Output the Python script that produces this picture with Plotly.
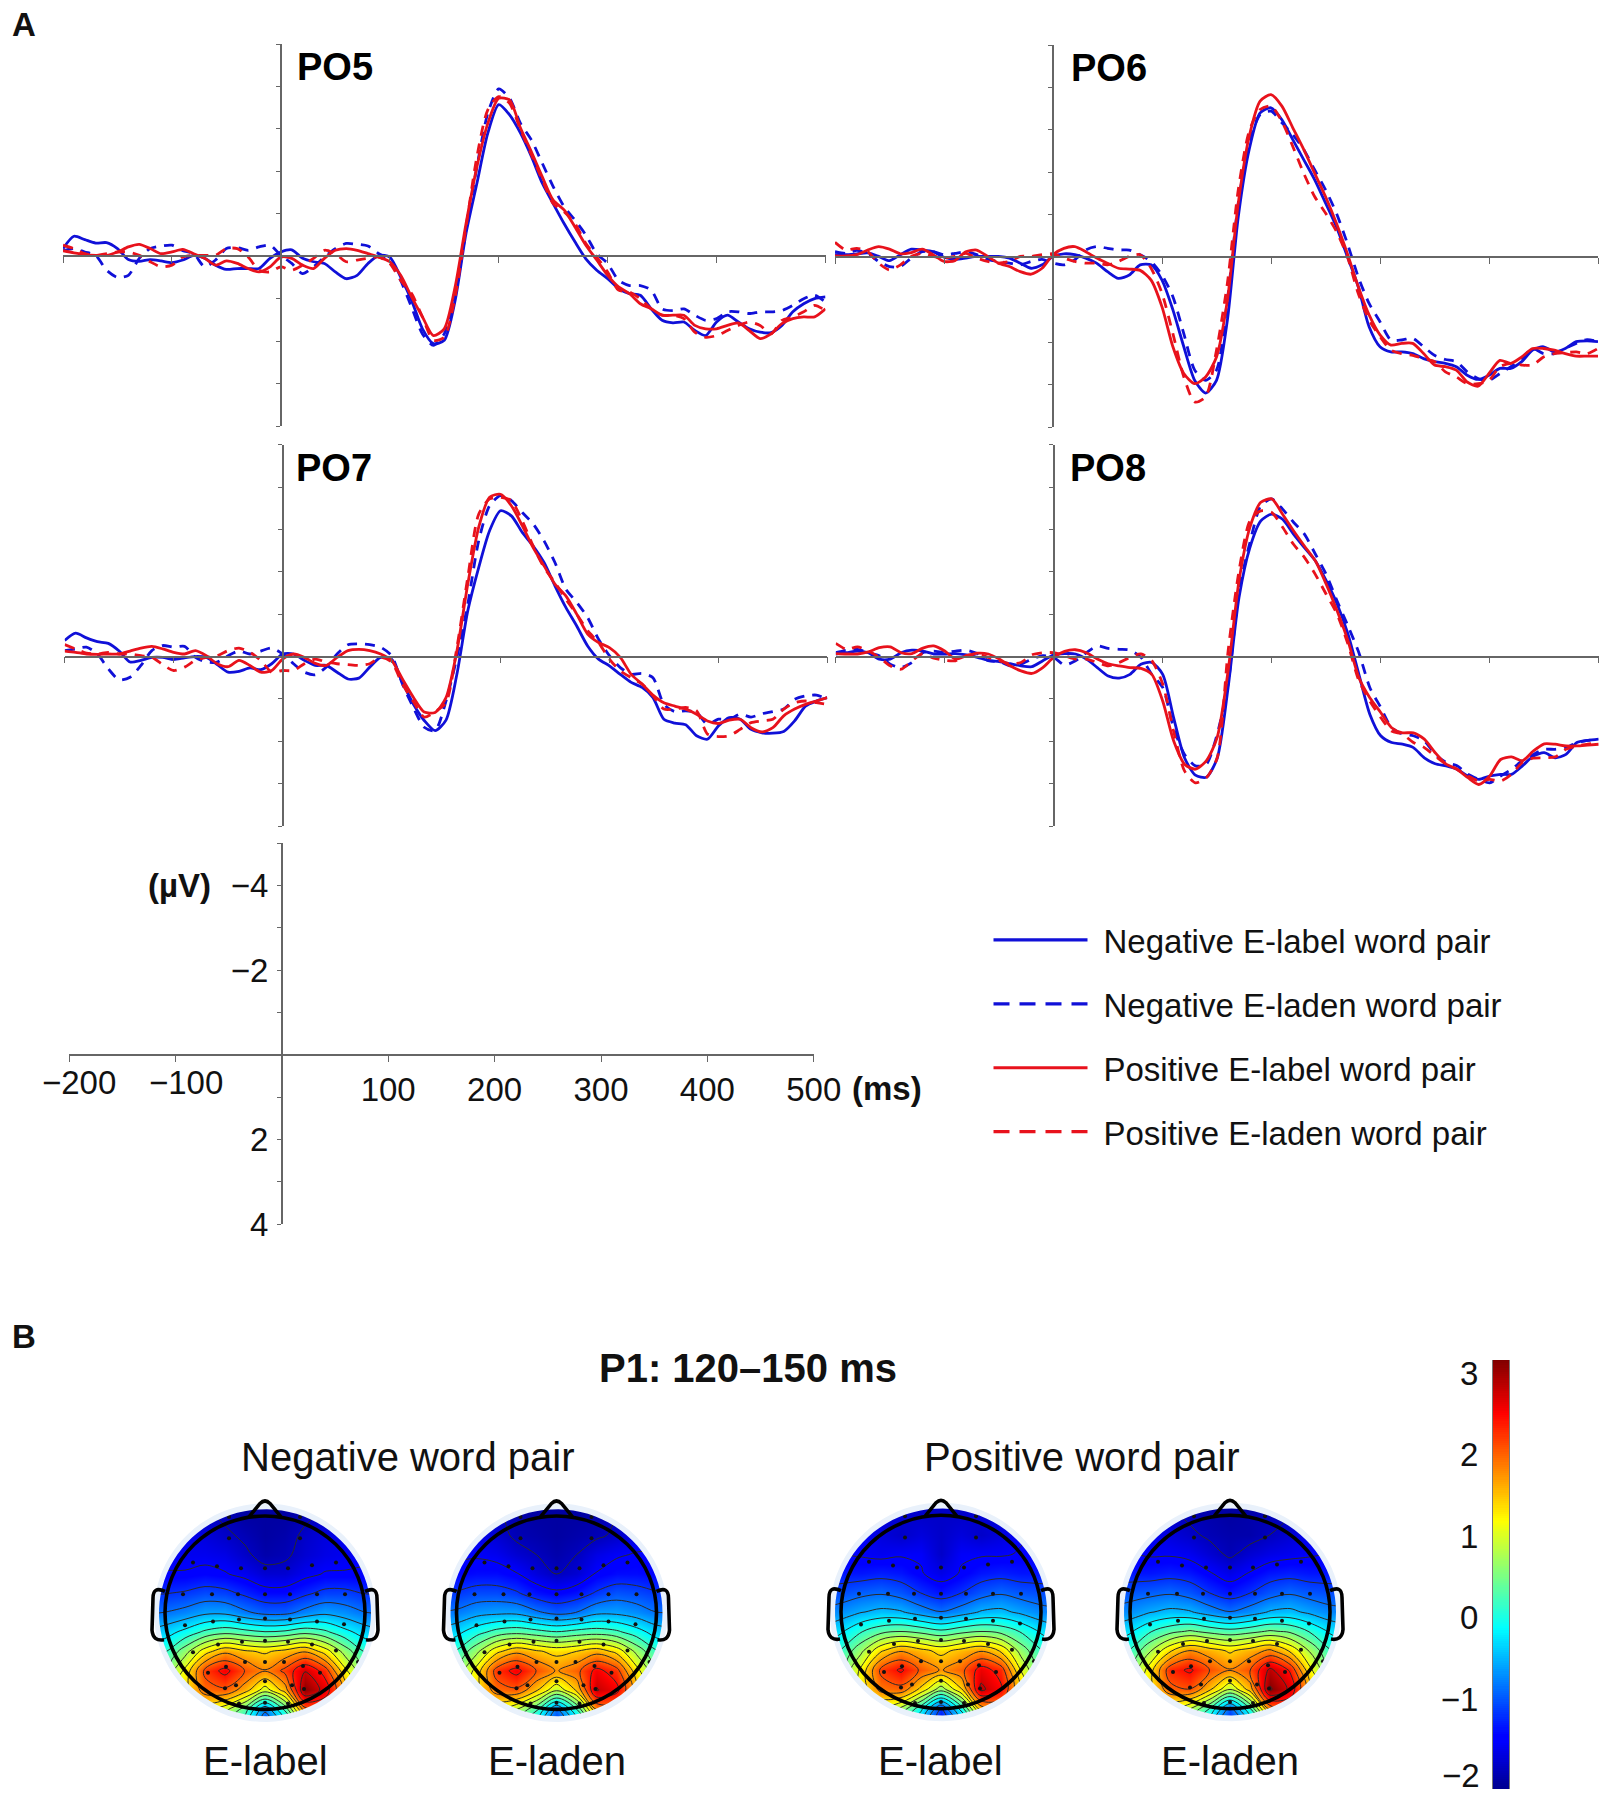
import numpy as np
import plotly.graph_objects as go

W = 1608
H = 1796

# time points in ms, every 10 ms
ms = list(range(-200, 510, 10))

# ERP values in microvolts, rows start at -200, -100, 0, 100, 200, 300, 400, 500 ms
po5_neg_label = [-.18,-.47,-.39,-.31,-.32,-.18,.08,.12,.08,.11,
    .15,.09,-.02,.05,.21,.31,.29,.29,.29,.05,
    -.1,-.15,.05,.13,.17,.37,.53,.45,.17,-.02,
    .02,.49,1.04,1.71,2.06,1.98,1.04,-.54,-1.72,-2.9,
    -3.57,-3.33,-2.9,-2.35,-1.72,-1.24,-.77,-.34,.06,.33,
    .53,.76,.88,.92,1.24,1.51,1.57,1.55,1.75,1.87,
    1.55,1.39,1.55,1.71,1.79,1.8,1.63,1.31,1.12,1.0,
    .96]
po5_neg_laden = [-.13,-.18,-.1,-.02,.33,.5,.45,.05,-.18,-.24,
    -.26,-.13,-.06,.25,.09,-.18,-.2,-.14,-.22,-.26,
    -.02,.17,.41,.25,.02,-.18,-.3,-.28,-.24,-.06,
    .09,.57,1.2,1.83,2.1,1.83,.88,-.61,-2.11,-3.37,
    -3.94,-3.72,-3.13,-2.74,-2.19,-1.64,-1.17,-.85,-.5,-.06,
    .17,.57,.69,.69,.8,1.24,1.28,1.24,1.39,1.51,
    1.47,1.31,1.31,1.35,1.31,1.31,1.28,1.16,1.0,.92,
    1.08]
po5_pos_label = [-.13,-.08,-.04,-.02,-.02,-.1,-.22,-.28,-.18,-.06,
    -.1,-.16,-.06,.05,.21,.11,.17,.29,.37,.25,
    .02,.05,.21,.29,.05,-.14,-.18,-.14,-.06,.02,
    .13,.45,.96,1.43,1.87,1.71,.72,-.77,-2.11,-3.13,
    -3.72,-3.68,-3.02,-2.46,-1.87,-1.32,-1.09,-.69,-.26,.09,
    .45,.72,.88,1.12,1.24,1.39,1.39,1.39,1.63,1.71,
    1.71,1.63,1.57,1.75,1.94,1.83,1.59,1.47,1.43,1.43,
    1.24]
po5_pos_laden = [-.26,-.18,-.06,-.02,-.06,-.1,-.1,-.02,.13,.25,
    .21,.02,-.02,-.02,-.02,-.18,-.18,.02,.33,.37,
    .25,.33,.21,.05,-.14,-.06,.13,.09,.05,.02,
    .17,.57,.88,1.43,1.98,1.91,.96,-.69,-2.35,-3.45,
    -3.76,-3.6,-2.98,-2.39,-1.8,-1.24,-1.05,-.77,-.3,.02,
    .37,.8,.84,1.0,1.24,1.39,1.39,1.47,1.79,1.91,
    1.87,1.75,1.63,1.55,1.63,1.83,1.51,1.43,1.31,1.16,
    1.28]

po6_neg_label = [-.06,-.06,-.08,-.1,-.02,.08,-.06,-.19,-.17,-.13,
    0,.05,.02,-.02,-.02,-.02,.02,.14,.26,.18,
    -.02,-.08,-.06,.02,.14,.34,.5,.42,.18,.18,
    .54,1.24,2.11,2.9,3.2,2.9,1.48,-.96,-2.54,-3.4,
    -3.52,-3.24,-2.77,-2.3,-1.83,-1.28,-.72,-.02,.69,1.64,
    2.11,2.23,2.23,2.27,2.39,2.46,2.5,2.58,2.78,2.88,
    2.78,2.62,2.62,2.46,2.19,2.11,2.23,2.15,1.99,1.97,
    1.99]
po6_neg_laden = [-.13,-.09,-.16,-.09,.1,.22,.22,.02,-.13,-.13,
    -.06,-.09,-.13,-.06,.05,.1,.14,.18,.1,.05,
    .14,.18,.06,-.17,-.25,-.21,-.17,-.17,-.06,.1,
    .42,.93,1.8,2.66,2.9,2.66,1.01,-1.28,-2.69,-3.36,
    -3.44,-3.17,-2.89,-2.54,-2.06,-1.59,-1.04,-.33,.46,1.09,
    1.52,1.95,1.95,1.91,2.11,2.31,2.41,2.46,2.7,2.86,
    2.9,2.74,2.58,2.39,2.15,2.27,2.27,2.15,2.03,1.94,
    1.99]
po6_pos_label = [-.03,-.03,-.06,-.17,-.25,-.19,-.08,-.11,-.19,-.06,
    .1,.08,-.13,-.17,-.02,.14,.22,.34,.4,.26,
    -.06,-.21,-.25,-.13,.02,.14,.26,.28,.31,.54,
    1.17,2.11,2.74,2.98,2.82,2.35,1.01,-1.28,-2.85,-3.68,
    -3.83,-3.56,-3.05,-2.54,-1.98,-1.43,-.8,-.09,.69,1.36,
    1.83,2.07,2.03,2.03,2.27,2.54,2.58,2.66,2.94,3.04,
    2.74,2.43,2.5,2.35,2.15,2.15,2.19,2.27,2.33,2.33,
    2.33]
po6_pos_laden = [-.35,-.17,-.21,-.13,.14,.3,.18,-.02,-.09,-.02,
    .02,-.02,-.09,.02,.1,.14,.1,-.02,-.02,-.06,
    -.08,.02,.1,.14,.14,.18,.1,-.02,-.06,.26,
    .85,1.8,2.82,3.41,3.29,2.19,.61,-1.59,-2.97,-3.48,
    -3.56,-3.2,-2.61,-1.98,-1.43,-1.04,-.61,-.02,.85,1.48,
    1.87,2.19,2.27,2.31,2.39,2.46,2.7,2.82,2.98,2.98,
    2.9,2.58,2.5,2.54,2.54,2.35,2.27,2.25,2.23,2.27,
    2.15]

po7_neg_label = [-.38,-.55,-.44,-.35,-.31,-.13,.13,.09,.02,.02,
    .07,.03,0,.02,.19,.37,.35,.27,.31,.17,
    -.06,-.06,.09,.21,.21,.37,.53,.51,.25,.02,
    .06,.61,1.12,1.51,1.75,1.5,.42,-1.08,-2.1,-2.97,
    -3.44,-3.32,-2.93,-2.61,-2.22,-1.67,-1.16,-.72,-.25,.06,
    .22,.42,.61,.73,.97,1.48,1.57,1.61,1.87,1.95,
    1.64,1.44,1.48,1.72,1.8,1.81,1.77,1.52,1.17,1.05,
    .97]
po7_neg_laden = [-.14,-.18,-.22,-.06,.29,.55,.49,.21,-.14,-.26,
    -.22,-.24,.02,.13,.13,-.02,-.13,-.06,-.13,-.2,
    -.06,.17,.37,.43,.25,-.06,-.28,-.3,-.28,-.22,
    -.02,.65,1.2,1.67,1.75,1.05,.02,-1.24,-2.73,-3.56,
    -3.8,-3.68,-3.4,-3.13,-2.73,-2.22,-1.59,-1.28,-.92,-.41,
    -.02,.26,.42,.4,.5,1.13,1.3,1.28,1.32,1.6,
    1.48,1.48,1.36,1.43,1.35,1.3,1.24,1.01,.93,.91,
    1.01]
po7_pos_label = [-.13,-.1,-.06,-.05,-.06,-.06,-.13,-.2,-.24,-.18,
    -.1,-.06,-.14,-.02,.17,.24,.09,.21,.37,.33,
    .06,-.06,.02,.16,.21,.02,-.14,-.17,-.14,-.06,
    .09,.53,.96,1.31,1.32,.97,-.13,-1.71,-3.05,-3.76,
    -3.83,-3.56,-3.09,-2.57,-2.14,-1.71,-1.43,-1.0,-.53,-.33,
    -.21,.02,.42,.65,.91,1.09,1.17,1.24,1.36,1.52,
    1.58,1.5,1.48,1.68,1.78,1.68,1.4,1.24,1.13,1.05,
    .97]
po7_pos_laden = [-.28,-.18,-.08,-.06,-.1,-.06,-.06,-.02,.02,.19,
    .33,.25,.09,.02,-.02,-.14,-.2,-.1,.09,.37,
    .33,.33,.17,.06,.13,.17,.19,.21,.17,.02,
    .13,.65,1.06,1.43,1.3,1.09,-.21,-1.87,-3.36,-3.72,
    -3.76,-3.68,-3.2,-2.61,-2.1,-1.75,-1.35,-1.0,-.61,-.33,
    .06,.34,.5,.65,.93,1.24,1.24,1.2,1.28,1.83,
    1.89,1.87,1.72,1.56,1.52,1.48,1.24,1.09,1.05,1.09,
    1.13]

po8_neg_label = [-.06,-.09,-.13,-.09,.06,.06,-.09,-.15,-.13,-.06,
    -.06,-.07,-.04,.02,.09,.12,.17,.22,.24,.1,
    -.04,-.07,-.06,.06,.26,.46,.51,.42,.18,.14,
    .42,1.44,2.39,2.8,2.85,2.4,.73,-1.39,-2.57,-3.2,
    -3.36,-3.24,-2.89,-2.57,-2.26,-1.79,-1.24,-.53,.42,1.36,
    1.87,2.03,2.07,2.15,2.39,2.53,2.58,2.66,2.82,2.9,
    2.82,2.78,2.78,2.58,2.35,2.27,2.39,2.31,2.03,1.98,
    1.95]
po8_neg_laden = [-.09,-.15,-.17,-.09,-.02,.18,.26,.14,-.09,-.13,
    -.09,-.13,-.15,-.07,.1,.12,.22,.18,.06,-.02,
    .02,.2,.1,-.09,-.25,-.19,-.17,-.15,.02,.42,
    .73,1.68,2.31,2.58,2.54,1.83,.65,-1.55,-2.69,-3.56,
    -3.72,-3.48,-3.17,-2.89,-2.42,-1.94,-1.31,-.72,-.09,.73,
    1.2,1.68,1.83,1.87,1.99,2.31,2.5,2.58,2.78,2.9,
    2.98,2.82,2.66,2.46,2.31,2.19,2.19,2.15,2.03,1.98,
    1.95]
po8_pos_label = [-.07,-.06,-.06,-.11,-.21,-.23,-.09,-.07,-.2,-.25,
    -.13,.06,-.02,-.08,-.06,.06,.22,.34,.4,.26,
    .02,-.12,-.16,-.09,.06,.17,.22,.26,.28,.42,
    1.05,1.99,2.54,2.66,2.46,1.91,.34,-1.79,-3.05,-3.64,
    -3.72,-3.36,-2.97,-2.61,-2.26,-1.71,-1.08,-.37,.5,.97,
    1.32,1.68,1.8,1.8,1.95,2.27,2.54,2.66,2.86,3.02,
    2.82,2.43,2.37,2.46,2.23,2.06,2.07,2.11,2.11,2.09,
    2.07]
po8_pos_laden = [-.31,-.17,-.23,-.13,.02,.22,.3,.1,-.07,.04,
    .09,.1,-.02,-.06,.02,.1,.17,.14,-.04,-.09,
    -.09,-.02,.06,.06,.14,.22,.14,.02,-.06,.1,
    .65,1.76,2.7,2.98,2.86,2.39,-.13,-2.02,-3.2,-3.44,
    -3.4,-3.05,-2.65,-2.34,-1.94,-1.47,-1.0,-.29,.57,1.05,
    1.44,1.76,1.83,2.03,2.15,2.35,2.54,2.66,2.82,2.94,
    2.9,2.94,2.78,2.5,2.4,2.39,2.37,2.19,2.11,2.07,
    2.03]

x_ticks = [-200, -100, 0, 100, 200, 300, 400, 500]
# the two negative labels sit a little higher and are added as annotations below
x_tick_labels = ["", "", "", "100", "200", "300", "400", "500"]
y_ticks = [-5, -4, -3, -2, -1, 0, 1, 2, 3, 4]
y_tick_labels = ["", "\u22124", "", "\u22122", "", "", "", "2", "", "4"]

series_names = ["Negative E-label word pair", "Negative E-laden word pair",
                "Positive E-label word pair", "Positive E-laden word pair"]
BLUE = "#1010d8"
RED = "#e8121c"

# topography values in microvolts, rows run from the front of the head to the back
grid_x = [-1.2, -1.0, -.8, -.6, -.4, -.2, 0, .2, .4, .6, .8, 1.0, 1.2]
grid_y = [1.2, 1.0, .8, .6, .4, .2, 0, -.2, -.4, -.6, -.8, -1.0, -1.2]

neg_label_map = [
    [-1.8,-1.8,-1.8,-1.9,-2,-2,-2,-2,-2,-1.9,-1.8,-1.8,-1.8],
    [-1.7,-1.7,-1.7,-1.8,-1.9,-2,-2,-2,-1.9,-1.8,-1.7,-1.7,-1.7],
    [-1.6,-1.6,-1.6,-1.7,-1.8,-1.9,-2,-1.95,-1.8,-1.7,-1.6,-1.6,-1.6],
    [-1.6,-1.6,-1.6,-1.6,-1.65,-1.8,-1.95,-1.9,-1.75,-1.65,-1.6,-1.55,-1.55],
    [-1.5,-1.5,-1.5,-1.45,-1.5,-1.6,-1.75,-1.75,-1.6,-1.5,-1.5,-1.5,-1.5],
    [-1.2,-1.2,-1.15,-1.05,-1.1,-1.25,-1.4,-1.4,-1.25,-1.1,-1.1,-1.2,-1.2],
    [-.9,-.85,-.75,-.6,-.6,-.8,-.95,-.95,-.75,-.6,-.7,-.85,-.9],
    [-.5,-.35,-.1,.2,.35,.25,.15,.2,.35,.2,-.1,-.35,-.5],
    [-.1,.1,.65,1.3,1.7,1.5,1.4,1.55,1.75,1.3,.65,.1,-.1],
    [.3,.5,1.2,2.2,2.55,2.1,1.8,2.2,2.75,2.3,1.2,.5,.3],
    [.8,1.0,1.3,1.95,2.05,1.6,.95,1.6,3.1,2.65,1.7,.9,.6],
    [.8,.9,1.1,1.2,.9,.3,-.8,.2,2.0,2.1,1.4,.8,.6],
    [.6,.7,.7,.6,.2,-.3,-1.2,-.6,.6,.9,.8,.6,.5],
]
neg_laden_map = [
    [-1.7,-1.7,-1.8,-1.9,-2,-2,-2,-2,-2,-1.9,-1.8,-1.7,-1.7],
    [-1.6,-1.6,-1.7,-1.8,-1.95,-2,-2,-2,-1.95,-1.85,-1.7,-1.6,-1.6],
    [-1.6,-1.6,-1.6,-1.75,-1.9,-1.95,-2,-1.95,-1.9,-1.8,-1.65,-1.6,-1.6],
    [-1.55,-1.55,-1.55,-1.6,-1.75,-1.85,-1.95,-1.85,-1.65,-1.55,-1.5,-1.5,-1.5],
    [-1.45,-1.45,-1.4,-1.4,-1.5,-1.7,-1.85,-1.75,-1.5,-1.4,-1.4,-1.45,-1.45],
    [-1.15,-1.15,-1.05,-1.05,-1.15,-1.35,-1.45,-1.35,-1.15,-1.0,-1.05,-1.15,-1.15],
    [-.85,-.8,-.65,-.6,-.6,-.8,-.95,-.85,-.6,-.6,-.7,-.85,-.85],
    [-.45,-.3,0,.25,.35,.25,.15,.25,.3,.2,-.05,-.35,-.45],
    [-.05,.15,.7,1.35,1.7,1.5,1.35,1.45,1.65,1.35,.7,.15,-.05],
    [.3,.55,1.25,2.25,2.55,2.1,1.75,2.0,2.55,2.25,1.25,.5,.3],
    [.6,.85,1.3,1.95,2.05,1.5,.85,1.5,2.8,2.55,1.6,.8,.6],
    [.5,.7,1.0,1.1,.8,.2,-.9,.1,1.8,1.9,1.3,.6,.5],
    [.4,.5,.5,.5,.1,-.5,-1.3,-.7,.5,.8,.6,.4,.3],
]
pos_label_map = [
    [-1.6,-1.6,-1.7,-1.75,-1.8,-1.8,-1.8,-1.8,-1.8,-1.75,-1.7,-1.6,-1.6],
    [-1.55,-1.55,-1.65,-1.7,-1.75,-1.8,-1.8,-1.8,-1.75,-1.7,-1.65,-1.55,-1.55],
    [-1.5,-1.5,-1.55,-1.7,-1.8,-1.7,-1.8,-1.7,-1.8,-1.7,-1.55,-1.5,-1.5],
    [-1.5,-1.5,-1.55,-1.6,-1.55,-1.55,-1.8,-1.55,-1.55,-1.55,-1.5,-1.45,-1.45],
    [-1.35,-1.35,-1.35,-1.3,-1.35,-1.5,-1.65,-1.5,-1.35,-1.3,-1.35,-1.35,-1.35],
    [-1.1,-1.05,-.95,-.9,-1.0,-1.2,-1.35,-1.2,-1.0,-.9,-1.0,-1.05,-1.1],
    [-.8,-.7,-.55,-.45,-.5,-.7,-.85,-.7,-.5,-.45,-.6,-.75,-.8],
    [-.45,-.25,.1,.35,.45,.35,.2,.35,.45,.35,.1,-.25,-.45],
    [-.1,.15,.7,1.4,1.75,1.55,1.35,1.55,1.75,1.4,.65,.15,-.1],
    [.2,.45,1.2,2.2,2.5,2.05,1.75,2.0,2.6,2.3,1.1,.35,.2],
    [.4,.65,1.2,1.9,2.0,1.35,.6,1.4,2.85,2.5,1.4,.6,.4],
    [.3,.5,.8,1.0,.7,-.1,-1.2,-.1,1.6,1.8,1.1,.5,.3],
    [.2,.3,.3,.3,-.1,-.8,-1.5,-.9,.3,.7,.5,.3,.2],
]
pos_laden_map = [
    [-1.7,-1.7,-1.8,-1.9,-1.95,-2,-2,-2,-1.95,-1.9,-1.8,-1.7,-1.7],
    [-1.6,-1.6,-1.7,-1.8,-1.9,-1.95,-2,-1.95,-1.9,-1.85,-1.7,-1.6,-1.6],
    [-1.55,-1.55,-1.6,-1.7,-1.8,-1.9,-1.95,-1.95,-1.85,-1.75,-1.6,-1.55,-1.55],
    [-1.5,-1.5,-1.55,-1.55,-1.6,-1.75,-1.9,-1.75,-1.65,-1.6,-1.55,-1.5,-1.5],
    [-1.35,-1.35,-1.35,-1.3,-1.35,-1.5,-1.65,-1.5,-1.35,-1.3,-1.35,-1.35,-1.35],
    [-1.05,-1.0,-.95,-.9,-1.0,-1.2,-1.35,-1.2,-1.0,-.9,-1.0,-1.05,-1.05],
    [-.8,-.7,-.55,-.45,-.5,-.7,-.85,-.7,-.5,-.45,-.6,-.75,-.8],
    [-.4,-.25,.1,.35,.5,.35,.25,.35,.5,.4,.1,-.25,-.4],
    [-.05,.15,.75,1.4,1.8,1.6,1.4,1.6,1.85,1.4,.75,.15,-.05],
    [.25,.5,1.3,2.3,2.5,2.1,1.8,2.1,2.85,2.4,1.2,.45,.25],
    [.5,.75,1.3,2.0,2.1,1.5,.8,1.6,3.15,2.7,1.6,.7,.5],
    [.4,.6,.9,1.1,.8,.1,-1.0,.1,1.9,2.1,1.3,.6,.4],
    [.3,.4,.4,.4,0,-.7,-1.4,-.8,.4,.9,.6,.4,.3],
]

# electrode sites on the unit head
electrode_x = [-.36,.35,-.36,.35,-.97,.94,-.72,-.48,-.24,0,.23,.47,.71,
    -.82,-.53,-.27,0,.25,.52,.8,-.8,-.52,-.26,0,.25,.52,.79,
    -.72,-.47,-.23,0,.23,.47,.71,-.95,-.2,0,.19,.93,
    -.57,-.39,.38,.55,-.4,-.29,0,.27,.39,-.26,0,.23]
electrode_y = [.99,.99,.77,.77,.56,.56,.52,.48,.46,.46,.46,.49,.52,
    .19,.19,.19,.19,.19,.19,.19,-.13,-.09,-.07,-.06,-.07,-.09,-.12,
    -.41,-.33,-.3,-.29,-.3,-.33,-.39,-.51,-.51,-.51,-.51,-.51,
    -.62,-.56,-.55,-.62,-.78,-.75,-.71,-.75,-.79,-.94,-.93,-.94]

jet = [[0, "#00008f"], [.11, "#0000ff"], [.125, "#0000ff"], [.375, "#00ffff"],
       [.625, "#ffff00"], [.875, "#ff0000"], [1, "#800000"]]
Z_MIN = -2.1
Z_MAX = 3.16
color_ticks = [3, 2, 1, 0, -1, -2]
# -2 sits at the page edge, so it is an annotation below
color_tick_labels = ["3", "2", "1", "0", "\u22121", ""]

FONT = "Liberation Sans"


def fx(px):
    return px / W


def fy(py):
    return 1 - py / H


def ellipse_points(rx, ry):
    t = np.linspace(0, 2 * np.pi, 90)
    return " ".join(("M" if i == 0 else "L") + f"{rx * np.cos(a):.4f},{ry * np.sin(a):.4f}"
                    for i, a in enumerate(t)) + " Z"


fig = go.Figure()
layout = {}
annotations = []
shapes = []

# name, x of -200, x of 500, y of -5, y of 4, x of the name
panels = [
    ("PO5", 63, 825.5, 44, 426, 295, [po5_neg_label, po5_neg_laden, po5_pos_laden, po5_pos_label]),
    ("PO6", 835, 1598, 45, 427, 1069, [po6_neg_label, po6_neg_laden, po6_pos_laden, po6_pos_label]),
    ("PO7", 64.7, 827.3, 444.7, 826, 294, [po7_neg_label, po7_neg_laden, po7_pos_laden, po7_pos_label]),
    ("PO8", 835.7, 1598.7, 444.7, 826, 1068, [po8_neg_label, po8_neg_laden, po8_pos_laden, po8_pos_label]),
]
curve_styles = [(BLUE, "solid"), (BLUE, "10px,8px"), (RED, "10px,8px"), (RED, "solid")]


def add_axes(n, x0, x1, y0, y1, labels):
    # axes cross at zero, so they are placed free on the page
    zero_x = x0 + (x1 - x0) * 200 / 700
    zero_y = y0 + (y1 - y0) * 5 / 9
    layout[f"xaxis{n}"] = dict(domain=[fx(x0), fx(x1)], range=[-200, 500], type="linear",
                               anchor="free", position=fy(zero_y), showgrid=False, zeroline=False,
                               showline=True, linecolor="#666666", linewidth=1.5,
                               ticks="outside", ticklen=6, tickwidth=1.2, tickcolor="#666666",
                               tickvals=x_ticks, ticktext=x_tick_labels if labels else None,
                               showticklabels=labels, tickfont=dict(family=FONT, size=33, color="#111111"))
    layout[f"yaxis{n}"] = dict(domain=[fy(y1), fy(y0)], range=[4, -5], type="linear",
                               anchor="free", position=fx(zero_x), showgrid=False, zeroline=False,
                               showline=True, linecolor="#666666", linewidth=1.5,
                               ticks="outside", ticklen=4, tickwidth=1.2, tickcolor="#666666",
                               tickvals=y_ticks, ticktext=y_tick_labels if labels else None, ticklabelstandoff=2,
                               showticklabels=labels, tickfont=dict(family=FONT, size=33, color="#111111"))


for n, (name, x0, x1, y0, y1, name_x, curves) in enumerate(panels, start=1):
    add_axes(n, x0, x1, y0, y1, False)
    for values, (color, dash) in zip(curves, curve_styles):
        assert len(values) == len(ms)
        fig.add_trace(go.Scatter(x=ms, y=values, mode="lines", showlegend=False, hoverinfo="skip",
                                 xaxis=f"x{n}", yaxis=f"y{n}",
                                 line=dict(color=color, width=2.8, dash=dash, shape="spline", smoothing=0.7)))
    annotations.append(dict(text=f"<b>{name}</b>", xref="paper", yref="paper", x=fx(name_x), y=fy(y0 + 23),
                            xanchor="left", yanchor="middle", showarrow=False,
                            font=dict(family=FONT, size=38, color="black")))

# scale axes with the legend on them
add_axes(5, 69, 813.8, 843, 1224.3, True)
legend_styles = [(BLUE, "solid"), (BLUE, "16px,10px"), (RED, "solid"), (RED, "16px,10px")]
for i, (label, (color, dash)) in enumerate(zip(series_names, legend_styles)):
    fig.add_trace(go.Scatter(x=[None], y=[None], mode="lines", name="\u2004" + label, legendgroup=str(i),
                             xaxis="x5", yaxis="y5", line=dict(color=color, width=3.2, dash=dash)))

# topographies
heads = [
    ("x6", "y6", 6, 265, 1612.7, neg_label_map, "E-label"),
    ("x7", "y7", 7, 556.5, 1612.7, neg_laden_map, "E-laden"),
    ("x8", "y8", 8, 941, 1612, pos_label_map, "E-label"),
    ("x9", "y9", 9, 1230, 1612, pos_laden_map, "E-laden"),
]
PX_X = 100
PX_Y = 96.7
for xname, yname, n, cx, cy, z_map, label in heads:
    layout[f"xaxis{n}"] = dict(domain=[fx(cx - 1.3 * PX_X), fx(cx + 1.3 * PX_X)], range=[-1.3, 1.3],
                               anchor=yname, visible=False)
    layout[f"yaxis{n}"] = dict(domain=[fy(cy + 1.3 * PX_Y), fy(cy - 1.3 * PX_Y)], range=[-1.3, 1.3],
                               anchor=xname, visible=False)
    fig.add_trace(go.Contour(x=grid_x, y=grid_y[::-1], z=z_map[::-1], xaxis=xname, yaxis=yname,
                             colorscale=jet, zmin=Z_MIN, zmax=Z_MAX, showscale=False, hoverinfo="skip",
                             contours=dict(coloring="heatmap", start=-1.85, end=3.1, size=0.33, showlines=True),
                             line=dict(color="#2a2a2a", width=1)))
    fig.add_trace(go.Scatter(x=electrode_x, y=electrode_y, mode="markers", showlegend=False, hoverinfo="skip",
                             xaxis=xname, yaxis=yname, marker=dict(color="#111111", size=4)))
    box = "M-1.5,-1.5 L-1.5,1.5 L1.5,1.5 L1.5,-1.5 Z "
    shapes.append(dict(type="path", xref=xname, yref=yname, layer="above", line=dict(width=0),
                       fillcolor="#e9f1fb", path=ellipse_points(1.14, 1.16) + " " + ellipse_points(1.06, 1.07),
                       fillrule="evenodd"))
    shapes.append(dict(type="path", xref=xname, yref=yname, layer="above", line=dict(width=0),
                       fillcolor="white", path=box + ellipse_points(1.11, 1.13), fillrule="evenodd"))
    outline = dict(color="black", width=3.6)
    shapes.append(dict(type="circle", xref=xname, yref=yname, layer="above", x0=-1, x1=1, y0=-1, y1=1, line=outline))
    shapes.append(dict(type="path", xref=xname, yref=yname, layer="above", line=outline,
                       path="M-.16,.99 L-.05,1.13 Q0,1.18 .05,1.13 L.16,.99"))
    shapes.append(dict(type="path", xref=xname, yref=yname, layer="above", line=outline,
                       path="M-1,.22 Q-1.12,.28 -1.12,.15 L-1.13,-.18 Q-1.12,-.3 -1.01,-.28"))
    shapes.append(dict(type="path", xref=xname, yref=yname, layer="above", line=outline,
                       path="M1,.22 Q1.12,.28 1.12,.15 L1.13,-.18 Q1.12,-.3 1.01,-.28"))
    annotations.append(dict(text=label, xref="paper", yref="paper", x=fx(cx), y=fy(1761), xanchor="center",
                            yanchor="middle", showarrow=False, font=dict(family=FONT, size=40, color="#111111")))

# color scale bar
bar_levels = np.linspace(Z_MIN, Z_MAX, 200)
fig.add_trace(go.Heatmap(x=[0, 1], y=bar_levels, z=[[v, v] for v in bar_levels], colorscale=jet,
                         zmin=Z_MIN, zmax=Z_MAX, showscale=False, hoverinfo="skip", xaxis="x10", yaxis="y10"))
layout["xaxis10"] = dict(domain=[fx(1493), fx(1509)], range=[0, 1], anchor="y10", visible=False)
layout["yaxis10"] = dict(domain=[fy(1789), fy(1360)], range=[Z_MIN, Z_MAX], anchor="x10", showgrid=False,
                         zeroline=False, showline=True, mirror=True, linecolor="#777777", linewidth=1,
                         ticks="", tickvals=color_ticks, ticktext=color_tick_labels, ticklabelstandoff=7,
                         tickfont=dict(family=FONT, size=33, color="#111111"))

texts = [
    ("<b>A</b>", 24, 25, 33),
    ("<b>B</b>", 24, 1336, 33),
    ("<b>(\u00b5V)</b>", 179, 885, 33),
    ("<b>(ms)</b>", 887, 1088, 33),
    ("\u2212200", 79, 1082, 33),
    ("\u2212100", 185.5, 1082, 33),
    ("\u22122", 1461, 1775, 33),
    ("<b>P1: 120\u2013150 ms</b>", 748, 1368, 40),
    ("Negative word pair", 408, 1457, 40),
    ("Positive word pair", 1082, 1457, 40),
]
for text, px, py, size in texts:
    annotations.append(dict(text=text, xref="paper", yref="paper", x=fx(px), y=fy(py), xanchor="center",
                            yanchor="middle", showarrow=False, font=dict(family=FONT, size=size, color="#111111")))

fig.update_layout(
    width=W, height=H, margin=dict(l=0, r=0, t=0, b=0, autoexpand=False), paper_bgcolor="white",
    plot_bgcolor="rgba(0,0,0,0)", font=dict(family=FONT), annotations=annotations, shapes=shapes,
    legend=dict(x=fx(988.5), y=fy(912), xanchor="left", yanchor="top", itemwidth=94, tracegroupgap=18,
                traceorder="grouped", bgcolor="rgba(0,0,0,0)", font=dict(family=FONT, size=33, color="#111111")),
    **layout,
)

fig.write_html("out.html", config={"displayModeBar": False}, post_script="document.body.style.margin='0';")
